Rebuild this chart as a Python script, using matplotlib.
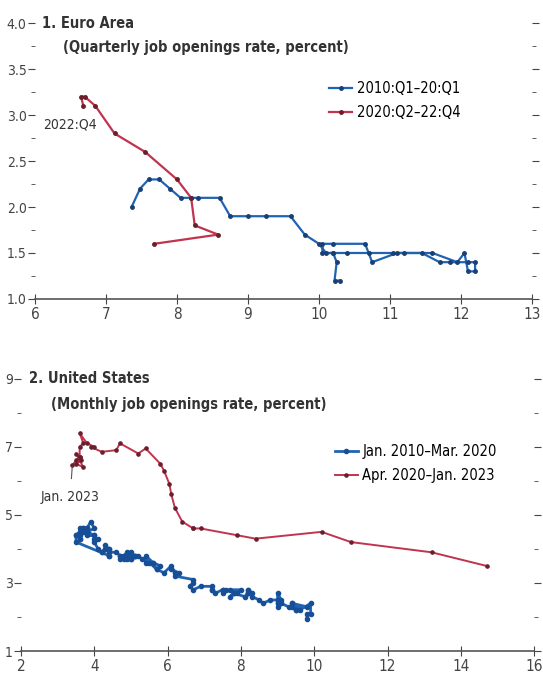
import numpy as np
import matplotlib
matplotlib.use('Agg')
import matplotlib.pyplot as plt
from matplotlib.ticker import MultipleLocator, FixedLocator

plt.rcParams['font.family'] = ['DejaVu Sans']
plt.rcParams['font.stretch'] = 'condensed'

BLUE = '#1f63b4'
RED = '#c0344f'

# 1. Euro Area, quarterly (unemployment rate, job openings rate)
ea_pre_u = [10.3, 10.22, 10.25, 10.2, 10.05, 10.05, 10.2, 10.65, 10.75, 11.1,
            11.45, 11.7, 11.85, 12.1, 12.2, 12.2, 12.1, 12.05, 11.95, 11.6,
            11.2, 11.05, 10.7, 10.4, 10.2, 10.1, 10.0, 9.8, 9.6, 9.25,
            9.0, 8.75, 8.6, 8.3, 8.2, 8.05, 7.9, 7.75, 7.6, 7.48, 7.36]
ea_pre_v = [1.2, 1.2, 1.4, 1.5, 1.5, 1.6, 1.6, 1.6, 1.4, 1.5,
            1.5, 1.4, 1.4, 1.4, 1.4, 1.3, 1.3, 1.5, 1.4, 1.5,
            1.5, 1.5, 1.5, 1.5, 1.5, 1.5, 1.6, 1.7, 1.9, 1.9,
            1.9, 1.9, 2.1, 2.1, 2.1, 2.1, 2.2, 2.3, 2.3, 2.2, 2.0]
ea_post_u = [7.68, 8.58, 8.25, 8.2, 8.0, 7.55, 7.12, 6.85, 6.7, 6.65, 6.68]
ea_post_v = [1.6, 1.7, 1.8, 2.1, 2.3, 2.6, 2.8, 3.1, 3.2, 3.2, 3.1]

# 2. United States, monthly
us_pre_u = [9.8, 9.8, 9.9, 9.9, 9.6, 9.4, 9.4, 9.5, 9.5, 9.4, 9.8, 9.3,
            9.1, 9.0, 9.0, 9.1, 9.0, 9.1, 9.0, 9.0, 9.0, 8.8, 8.6, 8.5,
            8.3, 8.3, 8.2, 8.2, 8.2, 8.2, 8.2, 8.1, 7.8, 7.8, 7.7, 7.9,
            8.0, 7.7, 7.5, 7.6, 7.5, 7.5, 7.3, 7.2, 7.2, 7.2, 6.9, 6.7,
            6.6, 6.7, 6.7, 6.2, 6.3, 6.1, 6.2, 6.1, 5.9, 5.7, 5.8, 5.6,
            5.7, 5.5, 5.4, 5.4, 5.6, 5.3, 5.2, 5.1, 5.0, 5.0, 5.1, 5.0,
            4.8, 4.9, 5.0, 5.1, 4.8, 4.9, 4.8, 4.9, 5.0, 4.9, 4.7, 4.7,
            4.7, 4.6, 4.4, 4.4, 4.4, 4.3, 4.3, 4.4, 4.3, 4.2, 4.2, 4.1,
            4.0, 4.1, 4.0, 4.0, 3.8, 4.0, 3.8, 3.8, 3.7, 3.8, 3.8, 3.9,
            4.0, 3.8, 3.8, 3.7, 3.6, 3.6, 3.7, 3.6, 3.5, 3.6, 3.6, 3.6,
            3.5, 3.5, 4.4]
us_pre_v = [1.95, 2.1, 2.1, 2.4, 2.2, 2.4, 2.3, 2.2, 2.2, 2.4, 2.3, 2.3,
            2.4, 2.3, 2.4, 2.4, 2.5, 2.5, 2.7, 2.4, 2.5, 2.5, 2.4, 2.5,
            2.6, 2.7, 2.8, 2.7, 2.8, 2.7, 2.7, 2.6, 2.7, 2.7, 2.6, 2.7,
            2.8, 2.8, 2.7, 2.8, 2.8, 2.8, 2.7, 2.8, 2.8, 2.9, 2.9, 2.8,
            2.9, 3.0, 3.1, 3.2, 3.3, 3.4, 3.3, 3.5, 3.3, 3.4, 3.5, 3.6,
            3.4, 3.6, 3.6, 3.8, 3.6, 3.7, 3.8, 3.8, 3.7, 3.7, 3.8, 3.8,
            3.8, 3.9, 3.9, 3.8, 3.7, 3.8, 3.8, 3.7, 3.8, 3.8, 3.8, 3.7,
            3.8, 3.9, 3.9, 3.8, 4.0, 4.1, 4.0, 4.0, 4.0, 3.9, 3.9, 4.0,
            4.2, 4.3, 4.3, 4.4, 4.4, 4.4, 4.5, 4.5, 4.6, 4.6, 4.6, 4.8,
            4.6, 4.5, 4.6, 4.6, 4.6, 4.5, 4.5, 4.4, 4.4, 4.5, 4.3, 4.3,
            4.4, 4.2, 3.8]
us_post_u = [14.7, 13.2, 11.0, 10.2, 8.4, 7.9, 6.9, 6.7, 6.7,
             6.4, 6.2, 6.1, 6.05, 5.9, 5.8, 5.4, 5.2, 4.7, 4.6, 4.2, 3.9,
             4.0, 3.8, 3.6, 3.7, 3.6, 3.6, 3.5, 3.7, 3.5, 3.65, 3.6, 3.5,
             3.4]
us_post_v = [3.5, 3.9, 4.2, 4.5, 4.3, 4.4, 4.6, 4.6, 4.6,
             4.8, 5.2, 5.6, 5.9, 6.3, 6.5, 6.95, 6.8, 7.1, 6.9, 6.85, 7.0,
             7.0, 7.1, 7.4, 7.1, 7.0, 6.7, 6.8, 6.4, 6.5, 6.6, 6.7, 6.6,
             6.45]

us_major = [1, 3, 5, 7, 9]
us_minor = [2, 4, 6, 8]

fig = plt.figure(figsize=(5.43, 6.81), dpi=100)
ax1 = fig.add_axes([0.0645, 0.561, 0.915, 0.405])
ax2 = fig.add_axes([0.0387, 0.044, 0.945, 0.4])


def style(ax):
    for s in ['top', 'left', 'right']:
        ax.spines[s].set_visible(False)
    ax.spines['bottom'].set_color('#555555')
    ax.spines['bottom'].set_linewidth(1.2)
    ax.tick_params(axis='y', which='both', left=True, right=True, direction='out',
                   colors='#444444', labelsize=10, pad=1)
    ax.tick_params(axis='y', which='major', length=5)
    ax.tick_params(axis='y', which='minor', length=3)
    ax.tick_params(axis='x', direction='inout', length=7, colors='#444444',
                   labelsize=11, pad=2)


# top panel
ax1.plot(ea_pre_u, ea_pre_v, color=BLUE, lw=1.6, marker='o', ms=2.5,
         mfc='#1a3f73', mec='#1a3f73', label='2010:Q1–20:Q1')
ax1.plot(ea_post_u, ea_post_v, color=RED, lw=1.6, marker='o', ms=2.5,
         mfc='#6b1e2c', mec='#6b1e2c', label='2020:Q2–22:Q4')
ax1.set_xlim(6, 13)
ax1.set_ylim(1.0, 4.0)
ax1.xaxis.set_major_locator(MultipleLocator(1))
ax1.yaxis.set_major_locator(MultipleLocator(0.5))
ax1.yaxis.set_minor_locator(MultipleLocator(0.25))
ax1.set_yticklabels([f'{v:.1f}' for v in ax1.get_yticks()])
style(ax1)
ax1.text(0.015, 1.0, '1. Euro Area', transform=ax1.transAxes, fontsize=10.5,
         fontweight='bold', va='center', color='#333333')
ax1.text(0.057, 0.91, '(Quarterly job openings rate, percent)', transform=ax1.transAxes,
         fontsize=10.5, fontweight='bold', va='center', color='#333333')
ax1.text(6.49, 2.9, '2022:Q4', fontsize=10, ha='center', va='center', color='#333333')
ax1.legend(loc='upper left', bbox_to_anchor=(0.58, 0.81), frameon=False, fontsize=10.5,
           handlelength=1.6, handletextpad=0.3, labelspacing=0.6, borderaxespad=0)

# bottom panel
ax2.plot(us_pre_u, us_pre_v, color=BLUE, lw=2.0, marker='o', ms=3,
         mfc='#174f96', mec='#174f96', label='Jan. 2010–Mar. 2020')
ax2.plot(us_post_u, us_post_v, color=RED, lw=1.4, marker='o', ms=2.3,
         mfc='#6b1e2c', mec='#6b1e2c', label='Apr. 2020–Jan. 2023')
ax2.set_xlim(2, 16)
ax2.set_ylim(1, 9)
ax2.xaxis.set_major_locator(MultipleLocator(2))
ax2.yaxis.set_major_locator(FixedLocator(us_major))
ax2.yaxis.set_minor_locator(FixedLocator(us_minor))
style(ax2)
ax2.text(0.015, 1.0, '2. United States', transform=ax2.transAxes, fontsize=10.5,
         fontweight='bold', va='center', color='#333333')
ax2.text(0.058, 0.905, '(Monthly job openings rate, percent)', transform=ax2.transAxes,
         fontsize=10.5, fontweight='bold', va='center', color='#333333')
ax2.annotate('Jan. 2023', xy=(3.4, 6.45), xytext=(3.34, 5.53), fontsize=10,
             ha='center', va='center', color='#333333',
             arrowprops=dict(arrowstyle='-', color='#555555', lw=0.8, shrinkA=6, shrinkB=1))
ax2.legend(loc='upper left', bbox_to_anchor=(0.6, 0.78), frameon=False, fontsize=10.5,
           handlelength=1.6, handletextpad=0.3, labelspacing=0.6, borderaxespad=0)

fig.savefig('out.png', dpi=100)
